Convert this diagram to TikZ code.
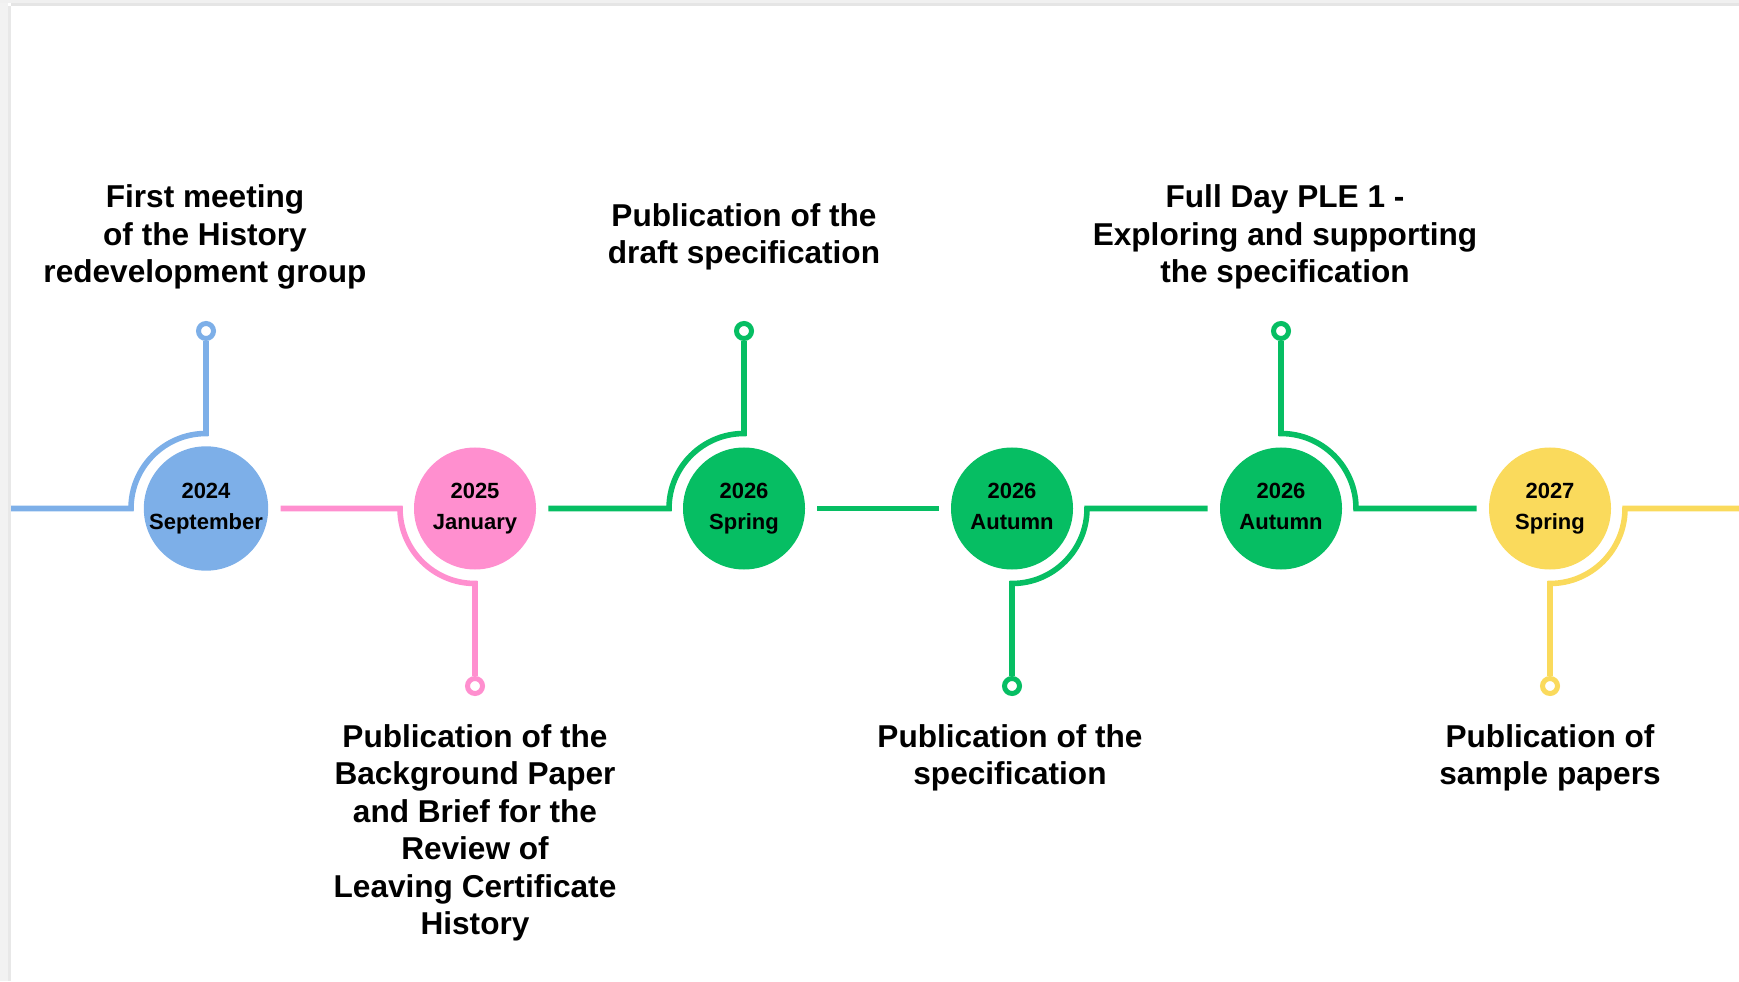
\documentclass[tikz,border=0pt]{standalone}
\usepackage{fontspec}
\setmainfont{Liberation Sans}
\usepackage{xcolor}
\usepackage{tikz}
\usetikzlibrary{positioning,calc}

\definecolor{tlblue}{HTML}{7DAFE8}
\definecolor{tlpink}{HTML}{FF8FCF}
\definecolor{tlgreen}{HTML}{06BE63}
\definecolor{tlyellow}{HTML}{FADA5C}

\tikzset{
  year/.style={circle, fill=#1, minimum size=61pt, inner sep=0pt, align=center,
    font=\fontsize{11pt}{15.8pt}\selectfont\bfseries},
  pin/.style={circle, draw=#1, fill=white, line width=2.5pt, minimum size=7.5pt, inner sep=0pt},
  track/.style={draw=#1, line width=2.8pt},
  event/.style={align=center, inner sep=0pt, font=\fontsize{15.8pt}{18.75pt}\selectfont\bfseries},
}

\begin{document}
\begin{tikzpicture}[x=0.5pt, y=0.5pt]
    \useasboundingbox (0,0) rectangle (1739,981);
    % page edge
    \fill[black!5] (0,0) rectangle (8,981);
    \fill[black!9] (8,0) rectangle (11,975);
    \fill[black!6] (0,978) rectangle (1739,981);
    \fill[black!10] (11,975) rectangle (1739,978);

    \node[year=tlblue]   (y1) at (206,472.5)  {2024\\September};
    \node[year=tlpink]   (y2) at (475,472.5)  {2025\\January};
    \node[year=tlgreen]  (y3) at (744,472.5)  {2026\\Spring};
    \node[year=tlgreen]  (y4) at (1012,472.5) {2026\\Autumn\vphantom{p}};
    \node[year=tlgreen]  (y5) at (1281,472.5) {2026\\Autumn\vphantom{p}};
    \node[year=tlyellow] (y6) at (1550,472.5) {2027\\Spring};

    \node[pin=tlblue]   (p1) at (206,650) {};
    \node[pin=tlpink]   (p2) at (475,295) {};
    \node[pin=tlgreen]  (p3) at (744,650) {};
    \node[pin=tlgreen]  (p4) at (1012,295) {};
    \node[pin=tlgreen]  (p5) at (1281,650) {};
    \node[pin=tlyellow] (p6) at (1550,295) {};

    \coordinate (l0) at (11,472.5);
    \coordinate (r0) at (1739,472.5);

    \draw[track=tlblue] (l0) -- ($(y1)+(-75,0)$) arc[start angle=180, end angle=90, radius=37.5pt] -- (p1);
    \draw[track=tlpink] ([xshift=6pt]y1.east) -- ($(y2)+(-75,0)$) arc[start angle=180, end angle=270, radius=37.5pt] -- (p2);
    \draw[track=tlgreen] ([xshift=6pt]y2.east) -- ($(y3)+(-75,0)$) arc[start angle=180, end angle=90, radius=37.5pt] -- (p3);
    \draw[track=tlgreen] ([xshift=6pt]y3.east) -- ([xshift=-6pt]y4.west);
    \draw[track=tlgreen] (p4) -- ($(y4)+(0,-75)$) arc[start angle=-90, end angle=0, radius=37.5pt] -- ([xshift=-6pt]y5.west);
    \draw[track=tlgreen] (p5) -- ($(y5)+(0,75)$) arc[start angle=90, end angle=0, radius=37.5pt] -- ([xshift=-6pt]y6.west);
    \draw[track=tlyellow] (p6) -- ($(y6)+(0,-75)$) arc[start angle=-90, end angle=0, radius=37.5pt] -- (r0);

    \node[event] (e1) at (205,744) {First meeting\\of the History\\redevelopment group};
    \node[event] (e3) at (744,744) {Publication of the\\draft specification};
    \node[event] (e5) at (1285,744) {Full Day PLE 1 -\\Exploring and supporting\\the specification};
    \node[event, anchor=north] (e2) at (475,257) {Publication of the\\Background Paper\\and Brief for the\\Review of\\Leaving Certificate\\History};
    \node[event, anchor=north] (e4) at (1010,257) {Publication of the\\specification};
    \node[event, anchor=north] (e6) at (1550,257) {Publication of\\sample papers};
\end{tikzpicture}
\end{document}
